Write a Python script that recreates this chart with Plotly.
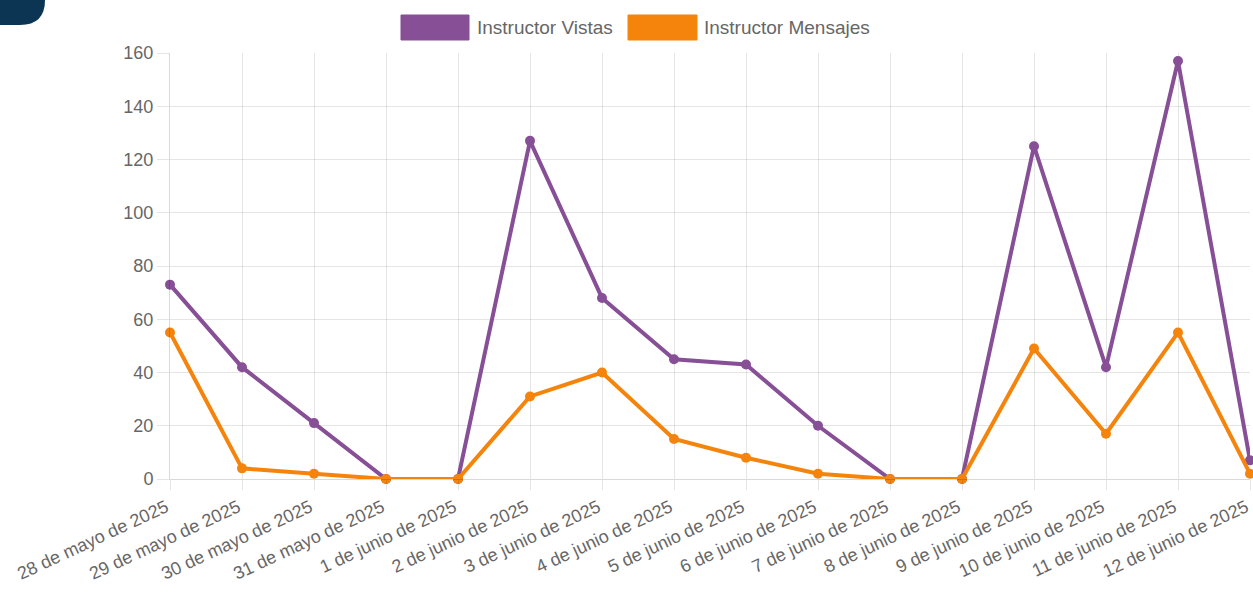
import plotly.graph_objects as go

fechas = ["28 de mayo de 2025", "29 de mayo de 2025", "30 de mayo de 2025", "31 de mayo de 2025",
          "1 de junio de 2025", "2 de junio de 2025", "3 de junio de 2025", "4 de junio de 2025",
          "5 de junio de 2025", "6 de junio de 2025", "7 de junio de 2025", "8 de junio de 2025",
          "9 de junio de 2025", "10 de junio de 2025", "11 de junio de 2025", "12 de junio de 2025"]
vistas = [73, 42, 21, 0, 0, 127, 68, 45, 43, 20, 0, 0, 125, 42, 157, 7]
mensajes = [55, 4, 2, 0, 0, 31, 40, 15, 8, 2, 0, 0, 49, 17, 55, 2]
nombres = ["Instructor Vistas", "Instructor Mensajes"]
colores = ["#874f96", "#f5840c"]

W, H = 1253, 592
L, R, T, B = 170, 3, 53, 113
PW, PH = W - L - R, H - T - B

def px(x):
    return (x - L) / PW

def py(y):
    return (H - B - y) / PH

fig = go.Figure()
for nombre, valores, color in zip(nombres, [vistas, mensajes], colores):
    fig.add_trace(go.Scatter(
        x=fechas, y=valores, name=nombre, mode="lines+markers",
        line=dict(color=color, width=4),
        marker=dict(color=color, size=10),
        cliponaxis=False, showlegend=False,
    ))

font = "Liberation Sans, Arial, Helvetica, sans-serif"
grid = "rgba(0,0,0,0.1)"

shapes = []
annotations = []
# legend drawn as boxes + text
leg = [(401, 469, 477), (628, 697, 704)]
for (x0, x1, xt), nombre, color in zip(leg, nombres, colores):
    shapes.append(dict(type="rect", xref="paper", yref="paper",
                       x0=px(x0), x1=px(x1), y0=py(40), y1=py(15),
                       fillcolor=color, line=dict(color=color, width=1)))
    annotations.append(dict(xref="paper", yref="paper", x=px(xt - 2), y=py(27.5),
                            xanchor="left", yanchor="middle", showarrow=False,
                            text=nombre, font=dict(family=font, size=19, color="#666666")))

# dark corner decoration
path = "M {} {} L {} {} L {} {} Q {} {} {} {} L {} {} Z".format(
    px(-5), py(-5), px(45), py(-5), px(45), py(0), px(45), py(25), px(20), py(25), px(-5), py(25))
shapes.append(dict(type="path", xref="paper", yref="paper", path=path,
                   fillcolor="#0b3552", line=dict(width=0)))

fig.update_layout(
    width=W, height=H, autosize=False,
    margin=dict(l=L, r=R, t=T, b=B, autoexpand=False),
    paper_bgcolor="white", plot_bgcolor="white",
    font=dict(family=font, size=19, color="#666666"),
    shapes=shapes, annotations=annotations,
    xaxis=dict(type="category", range=[0, 15], showgrid=True, gridcolor=grid, gridwidth=1,
               ticks="outside", ticklen=10, tickcolor=grid, tickangle=-25, automargin=False,
               ticklabelshift=-4,
               tickfont=dict(size=18, color="#666666"),
               showline=True, linecolor="rgba(0,0,0,0.15)", zeroline=False),
    yaxis=dict(range=[0, 160], dtick=20, showgrid=True, gridcolor=grid, gridwidth=1,
               ticks="outside", ticklen=12, tickcolor=grid, automargin=False,
               tickfont=dict(size=18, color="#666666"),
               showline=True, linecolor="rgba(0,0,0,0.15)", zeroline=False),
)

fig.write_html("out.html", config={"displayModeBar": False},
               post_script="document.body.style.margin='0px';")
